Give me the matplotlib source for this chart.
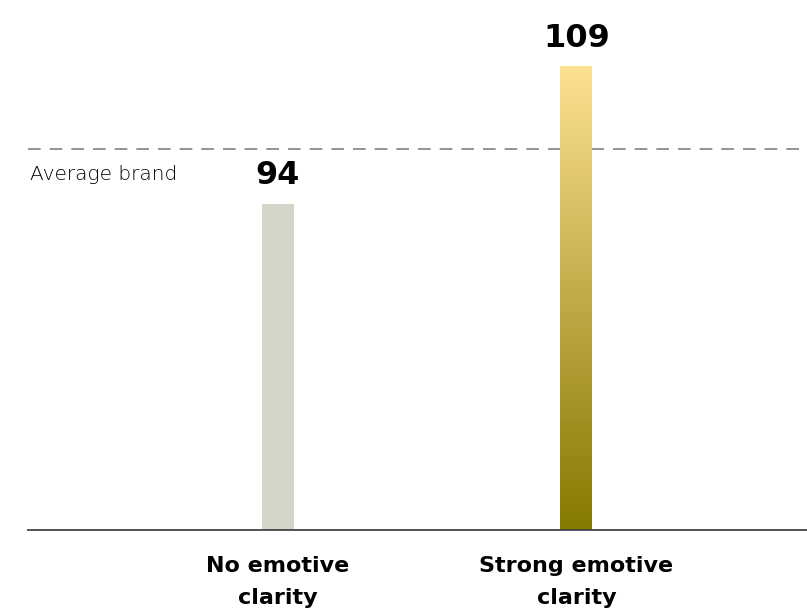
import numpy as np
import matplotlib.pyplot as plt
from matplotlib.colors import LinearSegmentedColormap

categories = ["No emotive\nclarity", "Strong emotive\nclarity"]
values = [94, 109]
average = 100

plt.rcParams['font.family'] = ['DejaVu Sans']

fig = plt.figure(figsize=(8.07, 6.15), dpi=100)
ax = fig.add_axes([28 / 807, 1 - 530 / 615, 1 - 28 / 807, 530 / 615])

x = np.array([278, 576.5])
bars = ax.bar(x, values, width=32, color=["#d4d4c8", "none"], zorder=2)

ax.set_xlim(28, 807)
ax.set_ylim(58.4, 116.2)

# gradient fill on the second bar
grad = LinearSegmentedColormap.from_list("gold", ["#857a00", "#c2aa48", "#fde192"])
b = bars[1]
ymin = ax.get_ylim()[0]
ax.imshow(np.linspace(0, 1, 256).reshape(-1, 1), cmap=grad, aspect="auto",
          origin="lower",
          extent=[b.get_x(), b.get_x() + b.get_width(), ymin, b.get_height()],
          zorder=2)
ax.set_xlim(28, 807)
ax.set_ylim(58.4, 116.2)

ax.axhline(average, color="#8a8a8a", lw=1.3, dashes=(7, 5), zorder=1)
ax.text(30, 98.2, "Average brand", fontsize=14.5, fontweight="light",
        ha="left", va="top", color="#000000")

for xi, v in zip(x, values):
    ax.annotate(str(v), (xi, v), xytext=(0, 9), textcoords="offset points",
                ha="center", va="bottom", fontsize=23, fontweight="bold",
                color="black")

for s in ["top", "right", "left"]:
    ax.spines[s].set_visible(False)
ax.spines["bottom"].set_color("#444444")
ax.spines["bottom"].set_linewidth(1.3)
ax.set_yticks([])
ax.set_xticks(x)
ax.set_xticklabels(categories, fontsize=16, fontweight="bold", linespacing=1.7)
ax.tick_params(axis="x", length=0, pad=19)

fig.savefig("out.png", dpi=100)
